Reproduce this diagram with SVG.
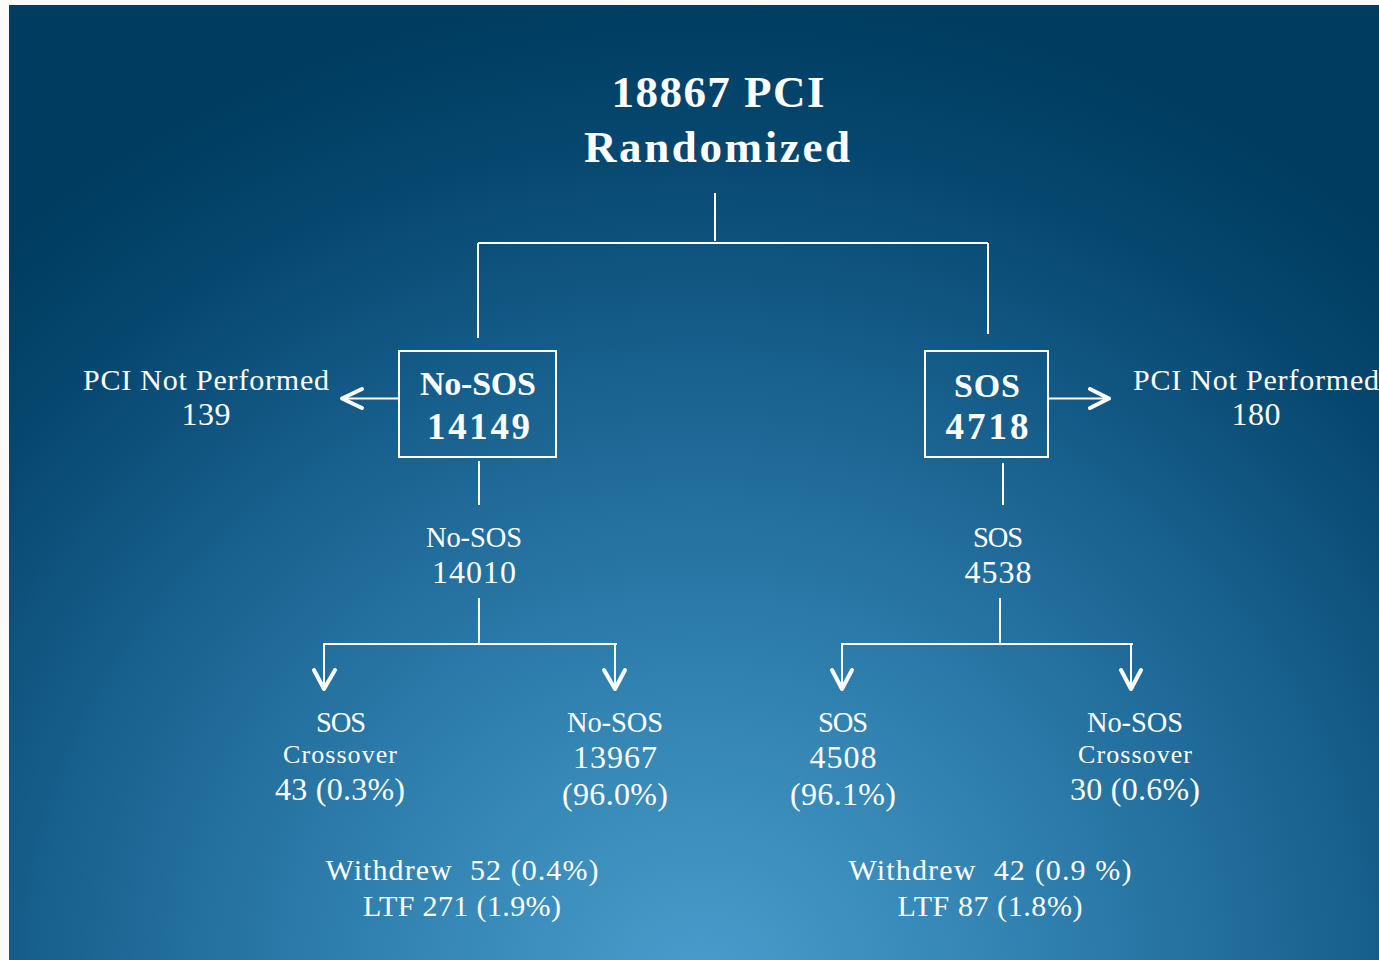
<svg xmlns="http://www.w3.org/2000/svg" width="1379" height="960" viewBox="0 0 1379 960">
<defs>
<radialGradient id="bg" gradientUnits="userSpaceOnUse" cx="700" cy="990" r="1050" gradientTransform="translate(700 990) scale(1 0.95) translate(-700 -990)">
<stop offset="0" stop-color="#4a9dcc"/>
<stop offset="0.3" stop-color="#3283b2"/>
<stop offset="0.6" stop-color="#1a6391"/>
<stop offset="0.85" stop-color="#06476f"/>
<stop offset="1" stop-color="#003c60"/>
</radialGradient>
<style>
text{font-family:"Liberation Serif","Times New Roman",serif;fill:#fff;text-anchor:middle}
.t{font-size:30px}
.w{font-size:28.5px}
.n{font-size:32px}
.s{font-size:26px}
.b{font-size:34px;font-weight:bold}
.bn{font-size:37px;font-weight:bold}
.h{font-size:45px;font-weight:bold}
.ln{stroke:#fff;stroke-width:2;fill:none}
.ch{stroke:#fff;stroke-width:4;fill:none;stroke-linecap:round;stroke-linejoin:round}
.box{fill:none;stroke:#fff;stroke-width:2}
</style>
</defs>
<rect x="0" y="0" width="1379" height="960" fill="#fbfbfb"/>
<rect x="9" y="5" width="1370" height="955" fill="url(#bg)"/>

<g id="connectors">
<path class="ln" d="M715 193V241M478 243H988M478 243V338M988 243V334"/>
<path class="ln" d="M399 398.5H345M1048 398.5H1108"/>
<polyline class="ch" points="362,389 342,398.5 362,408"/>
<polyline class="ch" points="1090,389 1109,398.5 1090,408"/>
<path class="ln" d="M479 461V505M1003 463V505"/>
<path class="ln" d="M479 598V644M323 644H617M324 644V688M615 644V688"/>
<path class="ln" d="M1000 598V644M841 644H1133M842 644V688M1131 644V688"/>
<polyline class="ch" points="314,670 324,689 335,670"/>
<polyline class="ch" points="604,670 615,689 625,670"/>
<polyline class="ch" points="832,670 842,689 852,670"/>
<polyline class="ch" points="1121,670 1131,689 1141,670"/>
</g>

<g id="root">
<text class="h" x="718" y="107" textLength="213" lengthAdjust="spacing">18867 PCI</text>
<text class="h" x="717" y="162" textLength="266" lengthAdjust="spacing">Randomized</text>
</g>

<g id="nososBox">
<rect class="box" x="399" y="351" width="157" height="106"/>
<text class="b" x="478" y="395" textLength="116" lengthAdjust="spacing">No-SOS</text>
<text class="bn" x="478.5" y="439" textLength="103" lengthAdjust="spacing">14149</text>
</g>

<g id="sosBox">
<rect class="box" x="925" y="351" width="123" height="106"/>
<text class="b" x="987" y="397" textLength="66" lengthAdjust="spacing">SOS</text>
<text class="bn" x="987" y="439" textLength="83" lengthAdjust="spacing">4718</text>
</g>

<g id="pciLeft">
<text class="t" x="206" y="390" textLength="246" lengthAdjust="spacing">PCI Not Performed</text>
<text class="n" x="206" y="425" textLength="49" lengthAdjust="spacing">139</text>
</g>

<g id="pciRight">
<text class="t" x="1256" y="390" textLength="246" lengthAdjust="spacing">PCI Not Performed</text>
<text class="n" x="1256" y="425" textLength="49" lengthAdjust="spacing">180</text>
</g>

<g id="nosos14010">
<text class="w" x="474" y="547" textLength="96" lengthAdjust="spacing">No-SOS</text>
<text class="n" x="474" y="583" textLength="84" lengthAdjust="spacing">14010</text>
</g>

<g id="sos4538">
<text class="w" x="998" y="547" textLength="50" lengthAdjust="spacing">SOS</text>
<text class="n" x="998" y="583" textLength="67" lengthAdjust="spacing">4538</text>
</g>

<g id="sosCrossover">
<text class="w" x="341" y="732" textLength="50" lengthAdjust="spacing">SOS</text>
<text class="s" x="340" y="763" textLength="114" lengthAdjust="spacing">Crossover</text>
<text class="n" x="340" y="800" textLength="130" lengthAdjust="spacing">43 (0.3%)</text>
</g>

<g id="nosos13967">
<text class="w" x="615" y="732" textLength="96" lengthAdjust="spacing">No-SOS</text>
<text class="n" x="615" y="768" textLength="84" lengthAdjust="spacing">13967</text>
<text class="n" x="615" y="805" textLength="106" lengthAdjust="spacing">(96.0%)</text>
</g>

<g id="sos4508">
<text class="w" x="843" y="732" textLength="50" lengthAdjust="spacing">SOS</text>
<text class="n" x="843" y="768" textLength="67" lengthAdjust="spacing">4508</text>
<text class="n" x="843" y="805" textLength="106" lengthAdjust="spacing">(96.1%)</text>
</g>

<g id="nososCrossover">
<text class="w" x="1135" y="732" textLength="96" lengthAdjust="spacing">No-SOS</text>
<text class="s" x="1135" y="763" textLength="114" lengthAdjust="spacing">Crossover</text>
<text class="n" x="1135" y="800" textLength="130" lengthAdjust="spacing">30 (0.6%)</text>
</g>

<g id="leftOutcome">
<text class="t" x="462" y="880" textLength="273" lengthAdjust="spacing" xml:space="preserve">Withdrew  52 (0.4%)</text>
<text class="t" x="462" y="916" textLength="198" lengthAdjust="spacing">LTF 271 (1.9%)</text>
</g>

<g id="rightOutcome">
<text class="t" x="990" y="880" textLength="283" lengthAdjust="spacing" xml:space="preserve">Withdrew  42 (0.9 %)</text>
<text class="t" x="990" y="916" textLength="185" lengthAdjust="spacing">LTF 87 (1.8%)</text>
</g>
</svg>
